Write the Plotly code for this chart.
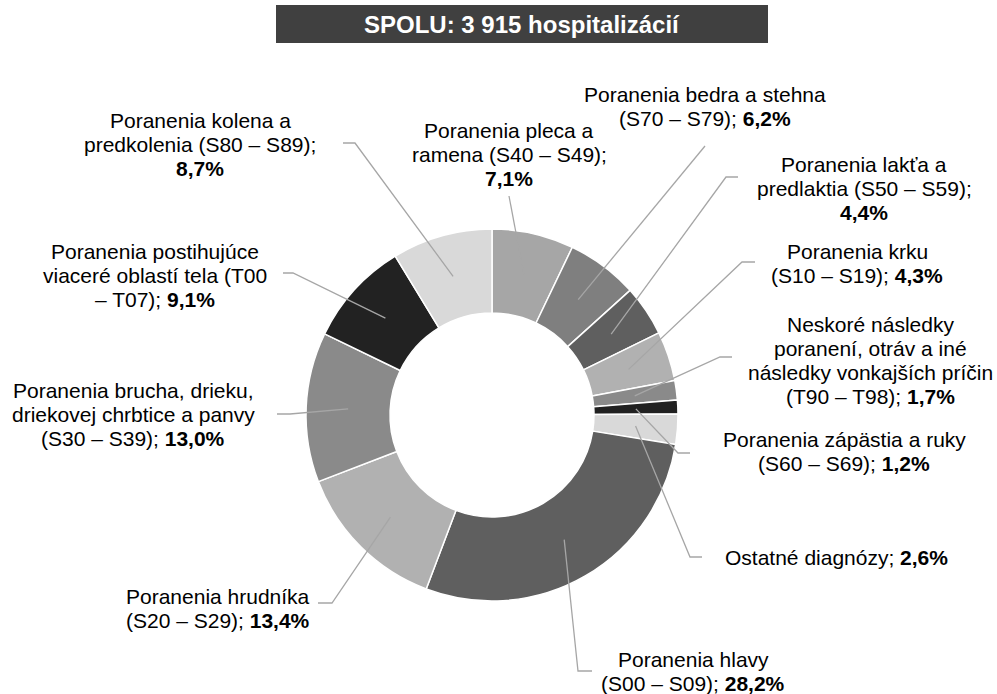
import math
import plotly.graph_objects as go

# ---------------- data ----------------
categories = [
    "Poranenia pleca a ramena (S40 – S49)",
    "Poranenia bedra a stehna (S70 – S79)",
    "Poranenia lakťa a predlaktia (S50 – S59)",
    "Poranenia krku (S10 – S19)",
    "Neskoré následky poranení, otráv a iné následky vonkajších príčin (T90 – T98)",
    "Poranenia zápästia a ruky (S60 – S69)",
    "Ostatné diagnózy",
    "Poranenia hlavy (S00 – S09)",
    "Poranenia hrudníka (S20 – S29)",
    "Poranenia brucha, drieku, driekovej chrbtice a panvy (S30 – S39)",
    "Poranenia postihujúce viaceré oblastí tela (T00 – T07)",
    "Poranenia kolena a predkolenia (S80 – S89)",
]
values = [7.1, 6.2, 4.4, 4.3, 1.7, 1.2, 2.6, 28.2, 13.4, 13.0, 9.1, 8.7]

# wrapped label lines ({p} = bold percent)
label_lines = [
    ["Poranenia pleca a", "ramena (S40 – S49);", "{p}"],
    ["Poranenia bedra a stehna", "(S70 – S79); {p}"],
    ["Poranenia lakťa a", "predlaktia (S50 – S59);", "{p}"],
    ["Poranenia krku", "(S10 – S19); {p}"],
    ["Neskoré následky", "poranení, otráv a iné", "následky vonkajších príčin", "(T90 – T98); {p}"],
    ["Poranenia zápästia a ruky", "(S60 – S69); {p}"],
    ["Ostatné diagnózy; {p}"],
    ["Poranenia hlavy", "(S00 – S09); {p}"],
    ["Poranenia hrudníka", "(S20 – S29); {p}"],
    ["Poranenia brucha, drieku,", "driekovej chrbtice a panvy", "(S30 – S39); {p}"],
    ["Poranenia postihujúce", "viaceré oblastí tela (T00", "– T07); {p}"],
    ["Poranenia kolena a", "predkolenia (S80 – S89);", "{p}"],
]
title_text = "SPOLU: 3 915 hospitalizácií"

# ---------------- style / layout ----------------
colors = ["#a6a6a6", "#7f7f7f", "#5f5f5f", "#b1b1b1", "#8a8a8a", "#212121",
          "#d9d9d9", "#5f5f5f", "#b1b1b1", "#8a8a8a", "#222222", "#d9d9d9"]

W, H = 997, 694
CX, CY, R_OUT, R_IN = 492, 415, 186, 102
R_MID = (R_OUT + R_IN) / 2
FS = 21
LINE_H = 24
FONT = "Liberation Sans, Arial, sans-serif"
LEADER = "#a6a6a6"

# label anchor: (center x, first baseline y)
label_pos = [
    (509, 137.7), (705, 101.7), (864, 171.7), (857, 259.0), (870, 331.7),
    (844, 447.3), (836, 565.0), (693, 667.3), (218, 603.5), (133, 398.3),
    (155, 259.3), (200, 127.7),
]
# leader line: elbow point and optional end of horizontal tick
leader_pts = [
    [(509, 196)],
    [(705, 146)],
    [(726, 177), (738, 177)],
    [(742, 262), (755, 262)],
    [(720, 357), (732, 357)],
    [(678, 453), (690, 453)],
    [(690, 557), (702, 557)],
    [(578, 671), (592, 671)],
    [(332, 603), (318, 603)],
    [(290, 414), (277, 414)],
    [(293, 273), (283, 273)],
    [(355, 143), (343, 143)],
]

fig = go.Figure()
fig.add_trace(go.Pie(
    labels=categories, values=values, hole=R_IN / R_OUT, sort=False,
    direction="clockwise", rotation=0, textinfo="none", hoverinfo="label+percent",
    marker=dict(colors=colors, line=dict(color="white", width=1.5)),
    domain=dict(x=[(CX - R_OUT) / W, (CX + R_OUT) / W],
                y=[1 - (CY + R_OUT) / H, 1 - (CY - R_OUT) / H]),
    showlegend=False,
))

shapes = []
annotations = []
total = sum(values)
cum = 0.0
for i, v in enumerate(values):
    ang = math.radians((cum + v / 2) / total * 360)
    cum += v
    x0 = CX + R_MID * math.sin(ang)
    y0 = CY - R_MID * math.cos(ang)
    pts = [(x0, y0)] + leader_pts[i]
    path = "M " + " L ".join(f"{x},{y}" for x, y in pts)
    shapes.append(dict(type="path", path=path, xref="x", yref="y",
                       line=dict(color=LEADER, width=1.3), layer="above"))
    pct = "<b>" + f"{v:.1f}".replace(".", ",") + "%</b>"
    lx, ly = label_pos[i]
    for k, line in enumerate(label_lines[i]):
        base = ly + k * LINE_H
        annotations.append(dict(
            x=lx, y=base - 0.35 * FS, xref="x", yref="y",
            text=line.replace("{p}", pct), showarrow=False,
            xanchor="center", yanchor="middle",
            font=dict(family=FONT, size=FS, color="#000000"),
        ))

# title box
shapes.append(dict(type="rect", x0=276, x1=768, y0=5, y1=43, xref="x", yref="y",
                   fillcolor="#404040", line=dict(width=0), layer="below"))
annotations.append(dict(x=522, y=24.5, xref="x", yref="y", text="<b>" + title_text + "</b>",
                        showarrow=False, xanchor="center", yanchor="middle",
                        font=dict(family=FONT, size=24, color="white")))

fig.update_layout(
    width=W, height=H, margin=dict(l=0, r=0, t=0, b=0),
    paper_bgcolor="white", plot_bgcolor="rgba(0,0,0,0)",
    xaxis=dict(range=[0, W], visible=False, fixedrange=True),
    yaxis=dict(range=[H, 0], visible=False, fixedrange=True),
    shapes=shapes, annotations=annotations, showlegend=False,
)

fig.write_html(
    "out.html",
    config={"displayModeBar": False},
    post_script=("document.body.style.margin='0';"
                 "document.body.style.overflow='hidden';"
                 "document.documentElement.style.overflow='hidden';"),
)
